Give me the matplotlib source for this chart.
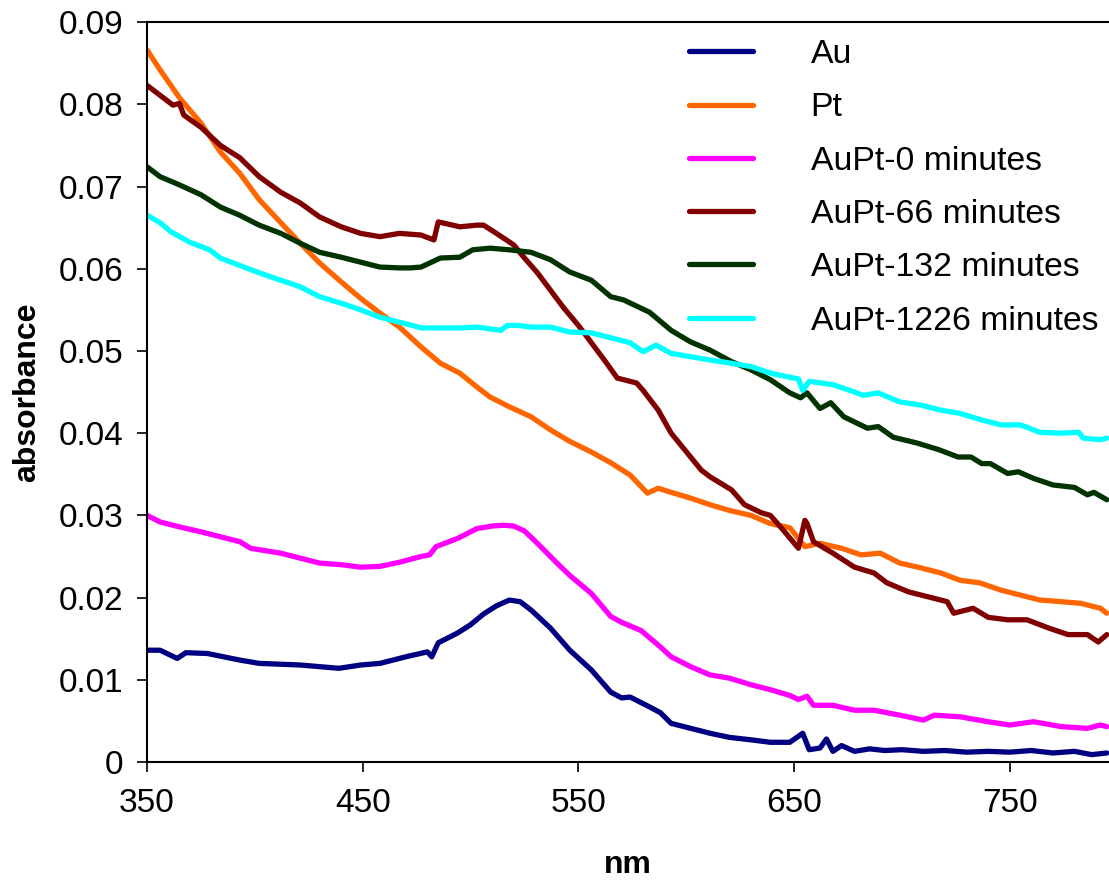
import matplotlib
matplotlib.use("Agg")
import matplotlib.pyplot as plt

plt.rcParams['font.family'] = ['Liberation Sans', 'DejaVu Sans']

# UV-vis spectra (wavelength in nm, absorbance)
au_nm = [350, 356, 364, 368, 378, 393, 402, 421, 439, 449, 458, 470, 480, 482, 485,
         494, 500, 506, 512, 518, 523, 528, 537, 546, 556, 565, 570, 574, 583, 588,
         593, 602, 611, 620, 630, 639, 648, 654, 657, 662, 665, 668, 672, 678, 685,
         692, 700, 710, 720, 730, 740, 750, 760, 770, 780, 788, 795]
au_abs = [0.0136, 0.0136, 0.0126, 0.0133, 0.0132, 0.0124, 0.0120, 0.0118, 0.0114, 0.0118,
          0.0120, 0.0128, 0.0134, 0.0128, 0.0145, 0.0157, 0.0167, 0.0180, 0.0190, 0.0197,
          0.0195, 0.0185, 0.0163, 0.0136, 0.0112, 0.0085, 0.0078, 0.0079, 0.0067, 0.0060,
          0.0047, 0.0041, 0.0035, 0.0030, 0.0027, 0.0024, 0.0024, 0.0035, 0.0015, 0.0017,
          0.0028, 0.0013, 0.0020, 0.0013, 0.0016, 0.0014, 0.0015, 0.0013, 0.0014, 0.0012,
          0.0013, 0.0012, 0.0014, 0.0011, 0.0013, 0.0009, 0.0011]

pt_nm = [350, 356, 365, 375, 384, 393, 402, 412, 421, 430, 440, 449, 458, 467, 477,
         486, 495, 503, 509, 518, 528, 537, 546, 556, 565, 574, 582, 587, 593, 602,
         611, 620, 630, 639, 648, 655, 662, 672, 681, 690, 699, 709, 718, 727, 736,
         746, 755, 764, 774, 783, 792, 795]
pt_abs = [0.0866, 0.0842, 0.0808, 0.0777, 0.0742, 0.0716, 0.0684, 0.0656, 0.0631, 0.0607,
          0.0584, 0.0564, 0.0546, 0.0529, 0.0505, 0.0485, 0.0473, 0.0456, 0.0444, 0.0432,
          0.0420, 0.0404, 0.0390, 0.0377, 0.0364, 0.0349, 0.0327, 0.0333, 0.0328, 0.0321,
          0.0313, 0.0306, 0.0300, 0.0290, 0.0285, 0.0262, 0.0266, 0.0260, 0.0252, 0.0254,
          0.0242, 0.0236, 0.0230, 0.0221, 0.0218, 0.0209, 0.0203, 0.0197, 0.0195, 0.0193,
          0.0187, 0.0181]

aupt0_nm = [350, 356, 365, 375, 384, 393, 398, 412, 421, 430, 440, 449, 458, 467, 477,
            481, 484, 494, 503, 510, 515, 520, 525, 531, 537, 542, 546, 556, 565, 570,
            579, 588, 593, 602, 611, 620, 630, 639, 648, 652, 656, 659, 668, 678, 687,
            699, 710, 715, 727, 740, 750, 761, 774, 786, 792, 795]
aupt0_abs = [0.0300, 0.0292, 0.0286, 0.0280, 0.0274, 0.0268, 0.0260, 0.0254, 0.0248, 0.0242,
             0.0240, 0.0237, 0.0238, 0.0243, 0.0250, 0.0252, 0.0262, 0.0272, 0.0284, 0.0287,
             0.0288, 0.0287, 0.0281, 0.0266, 0.0250, 0.0237, 0.0227, 0.0205, 0.0177, 0.0170,
             0.0160, 0.0140, 0.0128, 0.0116, 0.0106, 0.0102, 0.0094, 0.0088, 0.0081, 0.0076,
             0.0080, 0.0069, 0.0069, 0.0063, 0.0063, 0.0057, 0.0051, 0.0057, 0.0055, 0.0049,
             0.0045, 0.0049, 0.0043, 0.0041, 0.0045, 0.0043]

aupt66_nm = [350, 356, 362, 365, 367, 375, 384, 393, 402, 412, 421, 430, 440, 449, 458,
             467, 477, 483, 485, 495, 503, 506, 512, 520, 525, 531, 537, 543, 550, 556,
             562, 568, 577, 580, 587, 593, 602, 607, 611, 621, 627, 635, 639, 645, 652,
             655, 656, 659, 668, 678, 687, 693, 703, 712, 721, 724, 733, 740, 749, 758,
             768, 777, 786, 791, 795]
aupt66_abs = [0.0823, 0.0811, 0.0799, 0.0801, 0.0787, 0.0772, 0.0750, 0.0735, 0.0712, 0.0693,
              0.0680, 0.0663, 0.0651, 0.0643, 0.0639, 0.0643, 0.0641, 0.0635, 0.0657, 0.0651,
              0.0653, 0.0653, 0.0643, 0.0629, 0.0613, 0.0595, 0.0574, 0.0553, 0.0531, 0.0510,
              0.0489, 0.0467, 0.0461, 0.0452, 0.0428, 0.0400, 0.0371, 0.0355, 0.0347, 0.0331,
              0.0313, 0.0303, 0.0300, 0.0282, 0.0260, 0.0294, 0.0290, 0.0268, 0.0254, 0.0237,
              0.0230, 0.0218, 0.0207, 0.0201, 0.0195, 0.0181, 0.0187, 0.0176, 0.0173, 0.0173,
              0.0163, 0.0155, 0.0155, 0.0146, 0.0155]

aupt132_nm = [350, 356, 365, 375, 384, 393, 402, 412, 421, 430, 440, 449, 458, 467, 472,
              477, 486, 495, 501, 509, 518, 528, 537, 546, 556, 565, 571, 583, 593, 602,
              611, 621, 630, 639, 648, 653, 656, 662, 667, 673, 684, 689, 696, 707, 717,
              726, 732, 737, 741, 749, 754, 761, 770, 780, 786, 789, 795]
aupt132_abs = [0.0724, 0.0712, 0.0702, 0.0690, 0.0675, 0.0665, 0.0653, 0.0643, 0.0631, 0.0620,
               0.0614, 0.0608, 0.0602, 0.0601, 0.0601, 0.0602, 0.0613, 0.0614, 0.0623, 0.0625,
               0.0623, 0.0620, 0.0611, 0.0596, 0.0586, 0.0566, 0.0562, 0.0547, 0.0525, 0.0511,
               0.0501, 0.0487, 0.0477, 0.0465, 0.0449, 0.0443, 0.0449, 0.0430, 0.0437, 0.0420,
               0.0406, 0.0408, 0.0395, 0.0388, 0.0380, 0.0371, 0.0371, 0.0363, 0.0363, 0.0351,
               0.0353, 0.0345, 0.0337, 0.0334, 0.0325, 0.0328, 0.0319]

aupt1226_nm = [350, 356, 361, 370, 379, 384, 393, 402, 412, 421, 430, 440, 449, 458, 467,
               473, 477, 486, 495, 503, 514, 517, 522, 528, 537, 546, 556, 565, 574, 580,
               586, 593, 602, 611, 621, 630, 639, 648, 652, 654, 657, 668, 678, 682, 689,
               699, 709, 718, 727, 737, 746, 755, 764, 774, 782, 784, 792, 795]
aupt1226_abs = [0.0665, 0.0656, 0.0645, 0.0632, 0.0623, 0.0613, 0.0604, 0.0595, 0.0586, 0.0578,
                0.0566, 0.0558, 0.0550, 0.0541, 0.0535, 0.0531, 0.0528, 0.0528, 0.0528, 0.0529,
                0.0525, 0.0531, 0.0531, 0.0529, 0.0529, 0.0523, 0.0522, 0.0516, 0.0510, 0.0499,
                0.0507, 0.0497, 0.0493, 0.0489, 0.0485, 0.0481, 0.0473, 0.0468, 0.0466, 0.0452,
                0.0463, 0.0459, 0.0450, 0.0446, 0.0449, 0.0438, 0.0434, 0.0428, 0.0424, 0.0416,
                0.0410, 0.0410, 0.0401, 0.0400, 0.0401, 0.0394, 0.0392, 0.0394]

series = [
    ("Au", au_nm, au_abs, "#000080"),
    ("Pt", pt_nm, pt_abs, "#FF6600"),
    ("AuPt-0 minutes", aupt0_nm, aupt0_abs, "#FF00FF"),
    ("AuPt-66 minutes", aupt66_nm, aupt66_abs, "#800000"),
    ("AuPt-132 minutes", aupt132_nm, aupt132_abs, "#003300"),
    ("AuPt-1226 minutes", aupt1226_nm, aupt1226_abs, "#00FFFF"),
]

fig = plt.figure(figsize=(11.09, 8.83), dpi=100)
ax = fig.add_axes([0.1326, 0.137, 0.8674, 0.838])

for name, x, y, c in series:
    ax.plot(x, y, color=c, lw=3.8, label=name, solid_joinstyle='round',
            solid_capstyle='round')

ax.set_xlim(350, 796)
ax.set_ylim(0, 0.09)
ax.set_xticks([350, 450, 550, 650, 750])
ax.set_yticks([0, 0.01, 0.02, 0.03, 0.04, 0.05, 0.06, 0.07, 0.08, 0.09])
ax.set_yticklabels(['0', '0.01', '0.02', '0.03', '0.04', '0.05', '0.06', '0.07', '0.08', '0.09'])

for s in ['left', 'bottom', 'top']:
    ax.spines[s].set_linewidth(1.5)
ax.spines['right'].set_visible(False)
ax.tick_params(axis='both', labelsize=24, width=1.2, length=7, direction='out')
ax.tick_params(axis='y', pad=10)
ax.tick_params(axis='x', pad=12)

ax.set_xlabel('nm', fontsize=23, fontweight='bold', labelpad=22)
ax.set_ylabel('absorbance', fontsize=23, fontweight='bold', labelpad=12)

ax.legend(loc='upper left', bbox_to_anchor=(0.532, 1.018), frameon=False, fontsize=24.3,
          handlelength=1.9, handletextpad=1.7, labelspacing=0.66)

fig.savefig('out.png', dpi=100)
